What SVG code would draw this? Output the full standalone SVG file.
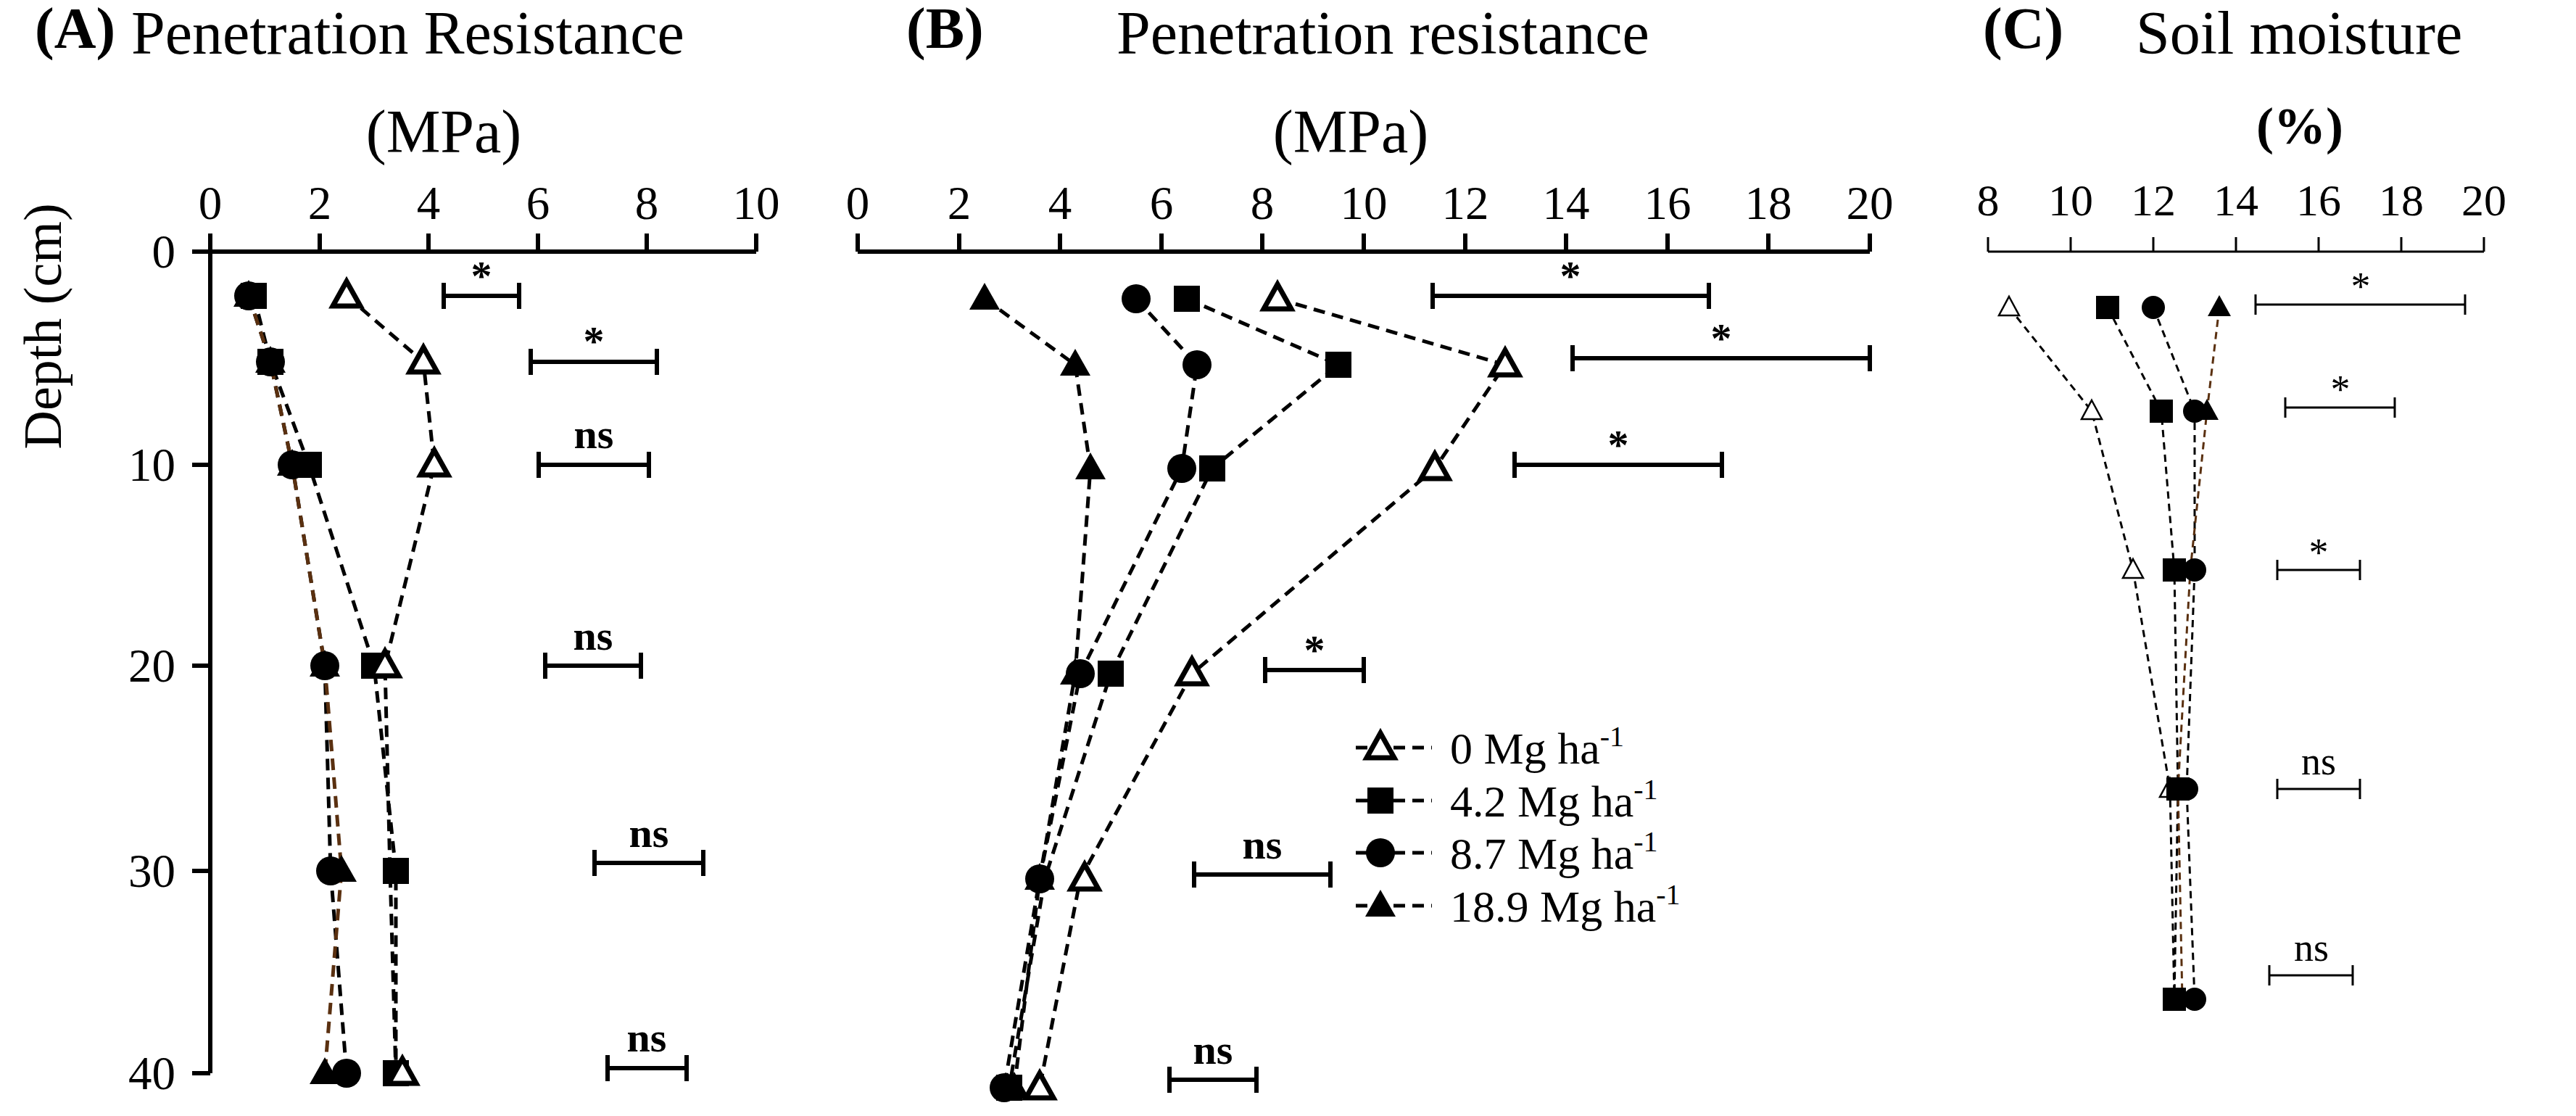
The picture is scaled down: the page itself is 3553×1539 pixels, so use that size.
<svg xmlns="http://www.w3.org/2000/svg" width="3553" height="1539" viewBox="0 0 3553 1539" font-family="'Liberation Serif','Times New Roman',serif">
<style>
text{font-family:"Liberation Serif","Times New Roman",serif;fill:#000}
.t{font-size:84px}
.b{font-size:80px;font-weight:bold}
.k{font-size:65px;text-anchor:middle}
.kc{font-size:62px;text-anchor:middle}
.ax{stroke:#000;stroke-width:6;fill:none}
.axc{stroke:#000;stroke-width:3;fill:none}
.d{fill:none;stroke:#000;stroke-width:5;stroke-dasharray:16 10}
.dc{fill:none;stroke:#000;stroke-width:3;stroke-dasharray:10 7}
.br{stroke:#5a3010}
.bar{stroke:#000;stroke-width:6;fill:none}
.barc{stroke:#000;stroke-width:3;fill:none}
.s{font-size:58px;font-weight:bold;text-anchor:middle}
.sc{font-size:54px;text-anchor:middle}
.lg{font-size:62px}
</style>
<defs>
<path id="ot" d="M0,-20 L19,14 L-19,14 Z" fill="#fff" stroke="#000" stroke-width="7"/>
<path id="ft" d="M0,-22 L21,15 L-21,15 Z" fill="#000"/>
<rect id="sq" x="-18" y="-18" width="36" height="36" fill="#000"/>
<circle id="ci" r="20" fill="#000"/>
<path id="otc" d="M0,-15 L14,11 L-14,11 Z" fill="#fff" stroke="#000" stroke-width="2.5"/>
<path id="ftc" d="M0,-17 L16,12 L-16,12 Z" fill="#000"/>
<rect id="sqc" x="-16" y="-16" width="32" height="32" fill="#000"/>
<circle id="cic" r="16" fill="#000"/>
</defs>

<g id="panelA">
<text class="b" x="48" y="66">(A)</text>
<text class="t" x="181" y="74">Penetration Resistance</text>
<text class="t" x="612" y="210" text-anchor="middle">(MPa)</text>
<g class="k"><text x="290" y="302">0</text><text x="441" y="302">2</text><text x="591" y="302">4</text><text x="742" y="302">6</text><text x="892" y="302">8</text><text x="1043" y="302">10</text></g>
<text x="84" y="450" transform="rotate(-90 84 450)" style="font-size:74px;text-anchor:middle">Depth (cm)</text>
<g style="font-size:65px;text-anchor:end"><text x="242" y="369">0</text><text x="242" y="663">10</text><text x="242" y="940">20</text><text x="242" y="1223">30</text><text x="242" y="1502">40</text></g>
<path class="ax" d="M265,347 H1043 M290,347 V1480 M290,347 v-25 M441,347 v-25 M591,347 v-25 M742,347 v-25 M892,347 v-25 M1043,347 v-25 M265,641 H290 M265,918 H290 M265,1201 H290 M265,1480 H290"/>
</g>

<g id="panelB">
<text class="b" x="1250" y="66">(B)</text>
<text class="t" x="1540" y="74">Penetration resistance</text>
<text class="t" x="1863" y="210" text-anchor="middle">(MPa)</text>
<g class="k"><text x="1183" y="302">0</text><text x="1323" y="302">2</text><text x="1462" y="302">4</text><text x="1602" y="302">6</text><text x="1741" y="302">8</text><text x="1881" y="302">10</text><text x="2021" y="302">12</text><text x="2160" y="302">14</text><text x="2300" y="302">16</text><text x="2439" y="302">18</text><text x="2579" y="302">20</text></g>
<path class="ax" d="M1183,347 H2579 M1183,347 v-25 M1323,347 v-25 M1462,347 v-25 M1602,347 v-25 M1741,347 v-25 M1881,347 v-25 M2021,347 v-25 M2160,347 v-25 M2300,347 v-25 M2439,347 v-25 M2579,347 v-25"/>
</g>

<g id="panelC">
<text class="b" x="2735" y="66">(C)</text>
<text class="t" x="2946" y="74">Soil moisture</text>
<text x="3172" y="198" style="font-size:72px;font-weight:bold;text-anchor:middle">(%)</text>
<g class="kc"><text x="2742" y="297">8</text><text x="2856" y="297">10</text><text x="2970" y="297">12</text><text x="3084" y="297">14</text><text x="3198" y="297">16</text><text x="3312" y="297">18</text><text x="3426" y="297">20</text></g>
<path class="axc" d="M2742,347 H3426 M2742,347 v-20 M2856,347 v-20 M2970,347 v-20 M3084,347 v-20 M3198,347 v-20 M3312,347 v-20 M3426,347 v-20"/>
</g>

<g id="connectors">
<path class="d" d="M478,408 L584,499 L599,641 L531,918 L538,1201 L546,1480"/>
<path class="d" d="M350,408 L373,499 L426,641 L516,918 L546,1201 L546,1480"/>
<path class="d" d="M343,408 L373,499 L403,641 L448,918 L456,1201 L478,1480"/>
<path class="d br" d="M343,408 L373,499 L403,641 L448,918 L471,1201 L448,1480"/>
<path class="d" d="M1762,412 L2076,503 L1979,646 L1644,929 L1490,1212 L1434,1500"/>
<path class="d" d="M1637,412 L1846,503 L1672,646 L1532,929 L1441,1212 L1392,1500"/>
<path class="d" d="M1567,412 L1651,503 L1630,646 L1490,929 L1434,1212 L1385,1500"/>
<path class="d" d="M1358,412 L1483,503 L1504,646 L1483,929 L1434,1212 L1399,1500"/>
<path class="dc" d="M2771,424 L2885,567 L2942,786 L2993,1088 L2999,1378"/>
<path class="dc" d="M2907,424 L2981,567 L2999,786 L3004,1088 L2999,1378"/>
<path class="dc" d="M2970,424 L3027,567 L3027,786 L3016,1088 L3027,1378"/>
<path class="dc br" d="M3061,424 L3044,567 L3021,786 L3004,1088 L3010,1378"/>
<path class="d" d="M1870,1031 H1975 M1870,1104 H1975 M1870,1176 H1975 M1870,1249 H1975"/>
</g>

<g id="markers">
<use href="#sq" x="350" y="408"/><use href="#sq" x="373" y="499"/><use href="#sq" x="426" y="641"/><use href="#sq" x="516" y="918"/><use href="#sq" x="546" y="1201"/><use href="#sq" x="546" y="1480"/>
<use href="#ft" x="343" y="408"/><use href="#ft" x="373" y="499"/><use href="#ft" x="403" y="641"/><use href="#ft" x="448" y="918"/><use href="#ft" x="471" y="1201"/><use href="#ft" x="448" y="1480"/>
<use href="#ci" x="343" y="408"/><use href="#ci" x="373" y="499"/><use href="#ci" x="403" y="641"/><use href="#ci" x="448" y="918"/><use href="#ci" x="456" y="1201"/><use href="#ci" x="478" y="1480"/>
<use href="#ot" x="478" y="408"/><use href="#ot" x="584" y="499"/><use href="#ot" x="599" y="641"/><use href="#ot" x="531" y="918"/><use href="#ot" x="555" y="1480"/>

<use href="#ft" x="1358" y="412"/><use href="#ft" x="1483" y="503"/><use href="#ft" x="1504" y="646"/><use href="#ft" x="1483" y="929"/><use href="#ft" x="1434" y="1212"/><use href="#ft" x="1399" y="1500"/>
<use href="#sq" x="1637" y="412"/><use href="#sq" x="1846" y="503"/><use href="#sq" x="1672" y="646"/><use href="#sq" x="1532" y="929"/><use href="#sq" x="1392" y="1500"/>
<use href="#ci" x="1567" y="412"/><use href="#ci" x="1651" y="503"/><use href="#ci" x="1630" y="646"/><use href="#ci" x="1490" y="929"/><use href="#ci" x="1434" y="1212"/><use href="#ci" x="1385" y="1500"/>
<use href="#ot" x="1762" y="412"/><use href="#ot" x="2076" y="503"/><use href="#ot" x="1979" y="646"/><use href="#ot" x="1644" y="929"/><use href="#ot" x="1496" y="1212"/><use href="#ot" x="1434" y="1500"/>

<use href="#otc" x="2771" y="424"/><use href="#otc" x="2885" y="567"/><use href="#otc" x="2942" y="786"/><use href="#otc" x="2993" y="1088"/>
<use href="#sqc" x="2907" y="424"/><use href="#sqc" x="2981" y="567"/><use href="#sqc" x="2999" y="786"/><use href="#sqc" x="3004" y="1088"/><use href="#sqc" x="2999" y="1378"/>
<use href="#ftc" x="3061" y="424"/><use href="#ftc" x="3044" y="567"/><use href="#ftc" x="3004" y="1088"/>
<use href="#cic" x="2970" y="424"/><use href="#cic" x="3027" y="567"/><use href="#cic" x="3027" y="786"/><use href="#cic" x="3016" y="1088"/><use href="#cic" x="3027" y="1378"/>
</g>

<g id="legend">
<use href="#ot" x="1904" y="1031"/><use href="#sq" x="1904" y="1104"/><use href="#ci" x="1904" y="1176"/><use href="#ft" x="1904" y="1249"/>
<text class="lg" x="2000" y="1053">0 Mg ha<tspan dy="-24" font-size="40">-1</tspan></text>
<text class="lg" x="2000" y="1126">4.2 Mg ha<tspan dy="-24" font-size="40">-1</tspan></text>
<text class="lg" x="2000" y="1198">8.7 Mg ha<tspan dy="-24" font-size="40">-1</tspan></text>
<text class="lg" x="2000" y="1271">18.9 Mg ha<tspan dy="-24" font-size="40">-1</tspan></text>
</g>

<g id="significance">
<path class="bar" d="M612,408 H716 M612,390 v36 M716,390 v36 M732,499 H906 M732,481 v36 M906,481 v36 M743,641 H895 M743,623 v36 M895,623 v36 M752,918 H884 M752,900 v36 M884,900 v36 M820,1190 H970 M820,1172 v36 M970,1172 v36 M838,1473 H947 M838,1455 v36 M947,1455 v36"/>
<text class="s" x="664" y="400">*</text><text class="s" x="819" y="490">*</text><text class="s" x="819" y="618">ns</text><text class="s" x="818" y="896">ns</text><text class="s" x="895" y="1168">ns</text><text class="s" x="892" y="1450">ns</text>
<path class="bar" d="M1976,408 H2357 M1976,390 v36 M2357,390 v36 M2169,494 H2579 M2169,476 v36 M2579,476 v36 M2089,641 H2375 M2089,623 v36 M2375,623 v36 M1745,924 H1881 M1745,906 v36 M1881,906 v36 M1647,1206 H1835 M1647,1188 v36 M1835,1188 v36 M1613,1489 H1733 M1613,1471 v36 M1733,1471 v36"/>
<text class="s" x="2166" y="400">*</text><text class="s" x="2374" y="486">*</text><text class="s" x="2232" y="633">*</text><text class="s" x="1813" y="916">*</text><text class="s" x="1741" y="1184">ns</text><text class="s" x="1673" y="1467">ns</text>
<path class="barc" d="M3111,420 H3400 M3111,406 v28 M3400,406 v28 M3152,562 H3303 M3152,548 v28 M3303,548 v28 M3141,786 H3255 M3141,772 v28 M3255,772 v28 M3141,1088 H3255 M3141,1074 v28 M3255,1074 v28 M3130,1345 H3245 M3130,1331 v28 M3245,1331 v28"/>
<text class="sc" x="3256" y="413">*</text><text class="sc" x="3228" y="555">*</text><text class="sc" x="3198" y="780">*</text><text class="sc" x="3198" y="1068">ns</text><text class="sc" x="3188" y="1325">ns</text>
</g>
</svg>
